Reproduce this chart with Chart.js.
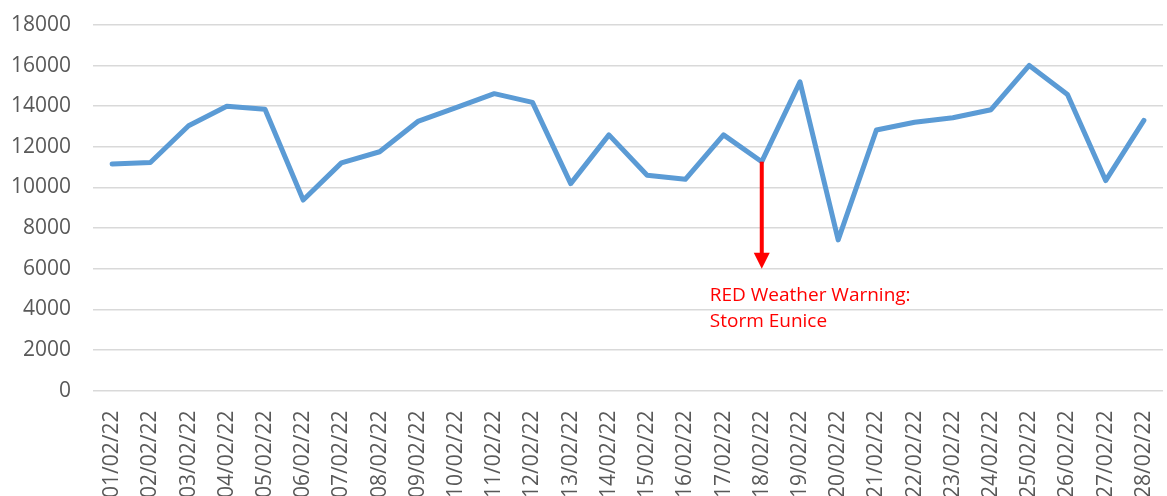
<!DOCTYPE html>
<html>
<head>
<meta charset="utf-8">
<script src="https://cdn.jsdelivr.net/npm/chart.js@4"></script>
<style>
  html, body { margin: 0; background: #fff; overflow: hidden; }
  /* taller than the window so the date labels run off the bottom like the original */
  #wrap { width: 1167px; height: 510px; }
</style>
</head>
<body>
<div id="wrap"><canvas id="storm"></canvas></div>
<script>
// daily values, February 2022
const days = ['01/02/22', '02/02/22', '03/02/22', '04/02/22', '05/02/22', '06/02/22', '07/02/22',
  '08/02/22', '09/02/22', '10/02/22', '11/02/22', '12/02/22', '13/02/22', '14/02/22',
  '15/02/22', '16/02/22', '17/02/22', '18/02/22', '19/02/22', '20/02/22', '21/02/22',
  '22/02/22', '23/02/22', '24/02/22', '25/02/22', '26/02/22', '27/02/22', '28/02/22'];
const counts = [11150, 11230, 13040, 14000, 13850, 9380, 11210,
  11760, 13250, 13930, 14620, 14190, 10190, 12590,
  10600, 10400, 12590, 11270, 15200, 7420, 12830,
  13210, 13430, 13830, 16010, 14580, 10340, 13300];
const yTicks = [0, 2000, 4000, 6000, 8000, 10000, 12000, 14000, 16000, 18000];

// annotation: arrow from the 18/02 point down to 6000
const warningIndex = 17;
const warningArrowTo = 6000;
const warningText = ['RED Weather Warning:', 'Storm Eunice'];

const warningArrow = {
  id: 'warningArrow',
  afterDatasetsDraw(chart) {
    const c = chart.ctx;
    const xs = chart.scales.x, ys = chart.scales.y;
    const x = xs.getPixelForValue(warningIndex);
    const yFrom = ys.getPixelForValue(counts[warningIndex]);
    const yTo = ys.getPixelForValue(warningArrowTo);
    c.save();
    c.strokeStyle = '#ff0000';
    c.fillStyle = '#ff0000';
    c.lineWidth = 4;
    c.beginPath();
    c.moveTo(x, yFrom);
    c.lineTo(x, yTo - 14);
    c.stroke();
    c.beginPath();
    c.moveTo(x - 8, yTo - 16);
    c.lineTo(x + 8, yTo - 16);
    c.lineTo(x, yTo);
    c.closePath();
    c.fill();
    c.font = '19px "Open Sans"';
    c.textAlign = 'left';
    c.textBaseline = 'alphabetic';
    c.fillText(warningText[0], x - 52, yTo + 32);
    c.fillText(warningText[1], x - 52, yTo + 58);
    c.restore();
  }
};

new Chart(document.getElementById('storm'), {
  type: 'line',
  data: {
    labels: days,
    datasets: [{
      data: counts,
      borderColor: '#5b9bd5',
      borderWidth: 5,
      pointRadius: 0,
      tension: 0,
      borderJoinStyle: 'round',
      borderCapStyle: 'round'
    }]
  },
  options: {
    responsive: true,
    maintainAspectRatio: false,
    animation: false,
    layout: { autoPadding: false, padding: { top: 25, right: 4, left: -11, bottom: 0 } },
    plugins: { legend: { display: false }, tooltip: { enabled: false } },
    scales: {
      x: {
        offset: true,
        grid: { display: false },
        border: { display: false },
        afterFit(axis) { axis.paddingLeft = 0; axis.paddingRight = 0; },
        ticks: {
          color: '#595959',
          font: { family: '"Open Sans"', size: 21 },
          minRotation: 90,
          maxRotation: 90,
          padding: 12,
          autoSkip: false
        }
      },
      y: {
        min: 0,
        max: 18000,
        afterBuildTicks(axis) { axis.ticks = yTicks.map(v => ({ value: v })); },
        afterFit(axis) { axis.paddingTop = 0; axis.paddingBottom = 0; },
        grid: { color: '#d9d9d9', lineWidth: 1.5, drawTicks: false },
        border: { display: false },
        ticks: {
          color: '#595959',
          font: { family: '"Open Sans"', size: 21 },
          padding: 22,
          callback: v => String(v)
        }
      }
    }
  },
  plugins: [warningArrow]
});
</script>
</body>
</html>
